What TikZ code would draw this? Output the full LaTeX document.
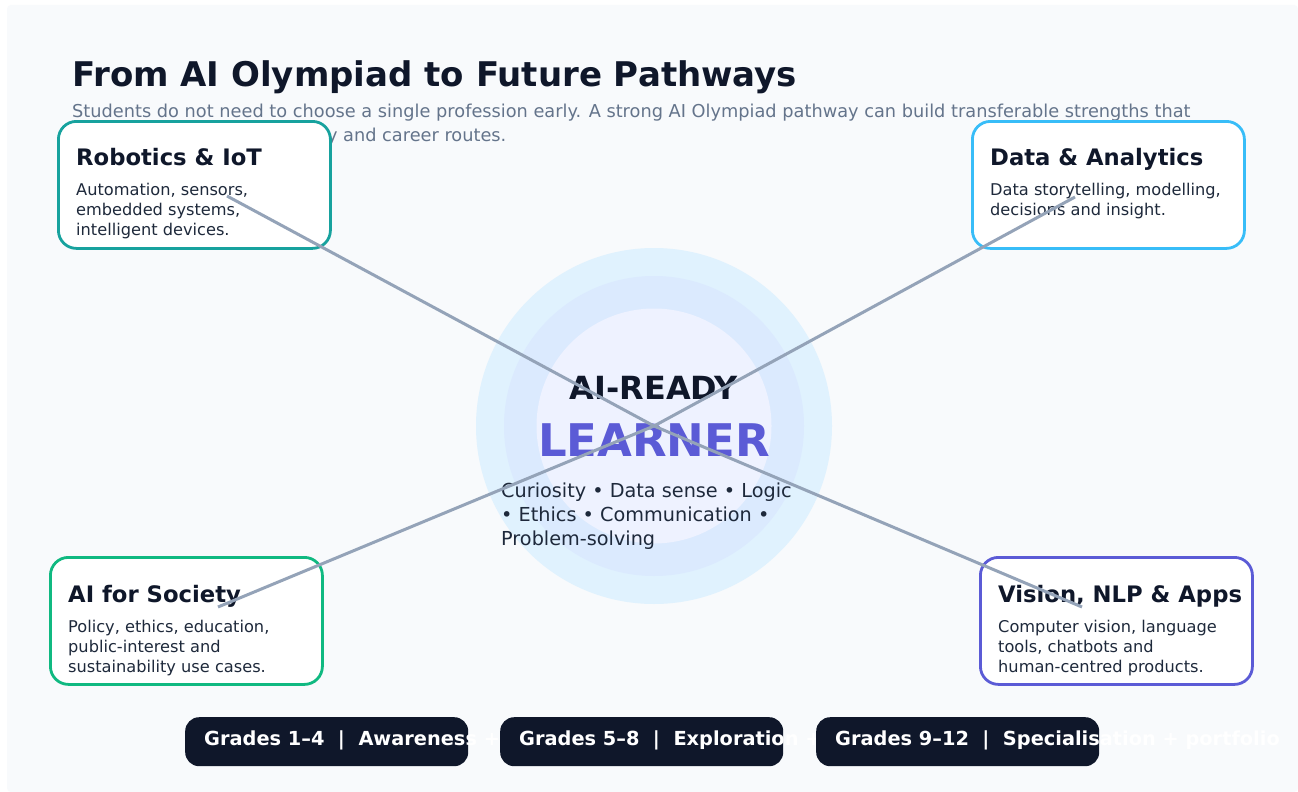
\documentclass[tikz,border=0pt]{standalone}
\usepackage{fontspec}
\setmainfont{DejaVu Sans}
\definecolor{pagebg}{HTML}{F8FAFC}
\definecolor{ink}{HTML}{0F172A}
\definecolor{bodyink}{HTML}{1E293B}
\definecolor{muted}{HTML}{64748B}
\definecolor{tealc}{HTML}{17A29E}
\definecolor{skyc}{HTML}{38BDF8}
\definecolor{emeraldc}{HTML}{10B981}
\definecolor{indigoc}{HTML}{5B5BD6}
\definecolor{spokec}{HTML}{94A3B8}
\definecolor{ringA}{HTML}{E0F2FE}
\definecolor{ringB}{HTML}{DBEAFE}
\definecolor{ringC}{HTML}{EEF2FF}
\begin{document}
\begin{tikzpicture}[x=1pt,y=-1pt,
  txt/.style={inner sep=0pt, anchor=base west},
  card/.style={draw=#1, line width=2.8pt, fill=white, rounded corners=18pt,
    minimum width=272pt, minimum height=127pt, anchor=north west, inner sep=0pt},
  cardtitle/.style={txt, font=\fontsize{22.7}{27}\selectfont\bfseries, text=ink},
  cardbody/.style={txt, font=\fontsize{16.2}{20}\selectfont, text=bodyink},
  pill/.style={fill=ink, rounded corners=14pt, minimum width=283pt,
    minimum height=49pt, anchor=north west, inner sep=0pt},
  pilltext/.style={txt, font=\fontsize{19.35}{22}\selectfont\bfseries, text=white},
  ring/.style={circle, fill=#1, inner sep=0pt},
  coretext/.style={txt, font=\fontsize{19.25}{24}\selectfont, text=bodyink},
  spoke/.style={draw=spokec, line width=3pt},
]
\useasboundingbox (0,0) rectangle (1298,792);
\fill[white] (0,0) rectangle (1298,792);
\fill[pagebg, rounded corners=4pt] (7,5) rectangle (1298,792);

% heading
\node[txt, font=\fontsize{34}{40}\selectfont\bfseries, text=ink] (title) at (72,86)
  {From AI Olympiad to Future Pathways};
\node[txt, font=\fontsize{17.75}{24}\selectfont, text=muted] (sub1) at (72,117)
  {Students do not need to choose a single profession early. A strong AI Olympiad pathway can build transferable strengths that};
\node[txt, font=\fontsize{17.75}{24}\selectfont, text=muted] (sub2) at (72,141)
  {lead into many areas of study and career routes.};

% learner core
\node[ring=ringA, minimum size=356pt] (halo) at (654,426) {};
\node[ring=ringB, minimum size=300pt] (mid) at (654,426) {};
\node[ring=ringC, minimum size=235pt] (core) at (654,426) {};
\node[txt, anchor=base, font=\fontsize{31.9}{36}\selectfont\bfseries, text=ink] (ready) at (654,399) {AI-READY};
\node[txt, anchor=base, font=\fontsize{45}{50}\selectfont\bfseries, text=indigoc] (learner) at (654,456) {LEARNER};
\node[coretext] (traits1) at (501,497) {Curiosity • Data sense • Logic};
\node[coretext] (traits2) at (501,521) {• Ethics • Communication •};
\node[coretext] (traits3) at (501,545) {Problem-solving};

% pathway cards
\node[card=tealc] (rob) at (57,120) {};
\node[cardtitle] at (76,165) {Robotics \& IoT};
\node[cardbody] at (76,195) {Automation, sensors,};
\node[cardbody] at (76,215) {embedded systems,};
\node[cardbody] at (76,235) {intelligent devices.};

\node[card=skyc] (data) at (971,120) {};
\node[cardtitle] at (990,165) {Data \& Analytics};
\node[cardbody] at (990,195) {Data storytelling, modelling,};
\node[cardbody] at (990,215) {decisions and insight.};

\node[card=emeraldc] (soc) at (49,556) {};
\node[cardtitle] at (68,602) {AI for Society};
\node[cardbody] at (68,632) {Policy, ethics, education,};
\node[cardbody] at (68,652) {public-interest and};
\node[cardbody] at (68,672) {sustainability use cases.};

\node[card=indigoc] (vis) at (979,556) {};
\node[cardtitle] at (998,602) {Vision, NLP \& Apps};
\node[cardbody] at (998,632) {Computer vision, language};
\node[cardbody] at (998,652) {tools, chatbots and};
\node[cardbody] at (998,672) {human-centred products.};

% spokes from the core to each card
\coordinate (rob-a) at (227,196);
\coordinate (data-a) at (1075,197);
\coordinate (soc-a) at (218,607);
\coordinate (vis-a) at (1082,607);
\draw[spoke] (core.center) -- (rob-a);
\draw[spoke] (core.center) -- (data-a);
\draw[spoke] (core.center) -- (soc-a);
\draw[spoke] (core.center) -- (vis-a);

% grade stages
\node[pill] (g1) at (185,717) {};
\node[pilltext] (g1t) at (204,745) {Grades 1–4\ \ |\ \ Awareness +};
\node[pill] (g2) at (500,717) {};
\node[pilltext] (g2t) at (519,745) {Grades 5–8\ \ |\ \ Exploration +};
\node[pill] (g3) at (816,717) {};
\node[pilltext] (g3t) at (835,745) {Grades 9–12\ \ |\ \ Specialisation + portfolio};
\end{tikzpicture}
\end{document}
